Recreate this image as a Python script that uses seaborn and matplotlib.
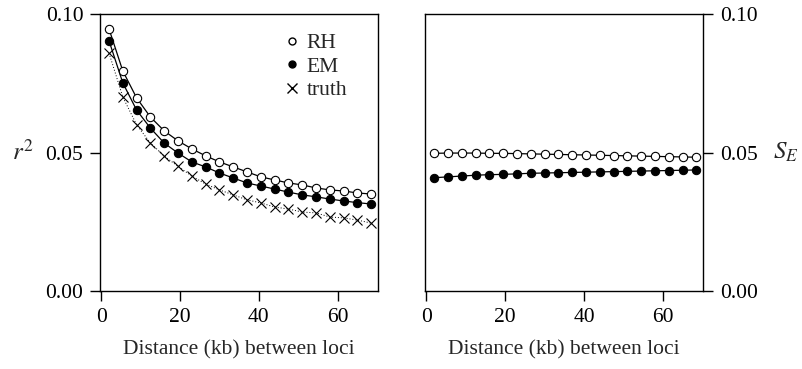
import numpy as np
import pandas as pd
import matplotlib
matplotlib.use("Agg")
import matplotlib.pyplot as plt
from matplotlib.lines import Line2D
import seaborn as sns

# distance between loci (kb)
distance = [2, 5.5, 9, 12.5, 16, 19.5, 23, 26.5, 30, 33.5,
            37, 40.5, 44, 47.5, 51, 54.5, 58, 61.5, 65, 68.5]

# left panel: r^2
r2_rh = [0.0946, 0.0794, 0.0697, 0.0628, 0.0578, 0.0542, 0.0513, 0.0488, 0.0466, 0.0448,
         0.0430, 0.0412, 0.0401, 0.0390, 0.0383, 0.0372, 0.0365, 0.0361, 0.0354, 0.0350]
r2_em = [0.0903, 0.0751, 0.0653, 0.0588, 0.0534, 0.0498, 0.0466, 0.0448, 0.0426, 0.0408,
         0.0390, 0.0379, 0.0368, 0.0357, 0.0347, 0.0340, 0.0332, 0.0325, 0.0319, 0.0314]
r2_truth = [0.0859, 0.0700, 0.0600, 0.0534, 0.0487, 0.0450, 0.0415, 0.0386, 0.0365, 0.0347,
            0.0329, 0.0318, 0.0303, 0.0296, 0.0285, 0.0282, 0.0267, 0.0264, 0.0256, 0.0245]

# right panel: S_E
se_rh = [0.0497, 0.0498, 0.0498, 0.0498, 0.0497, 0.0497, 0.0496, 0.0495, 0.0494, 0.0493,
         0.0492, 0.0491, 0.0490, 0.0489, 0.0488, 0.0487, 0.0486, 0.0485, 0.0484, 0.0483]
se_em = [0.0409, 0.0412, 0.0415, 0.0418, 0.0420, 0.0421, 0.0423, 0.0425, 0.0426, 0.0427,
         0.0428, 0.0429, 0.0430, 0.0431, 0.0432, 0.0433, 0.0434, 0.0435, 0.0436, 0.0437]

yticks = [0.00, 0.05, 0.10]
xticks = [0, 20, 40, 60]

sns.set_style("ticks")
plt.rcParams['font.family'] = ['Liberation Serif', 'DejaVu Serif']
plt.rcParams['mathtext.fontset'] = 'stix'

FS = 15.5

fig = plt.figure(figsize=(8.03, 3.69), dpi=100)
ax1 = fig.add_axes([0.1245, 0.2114, 0.3462, 0.7506])
ax2 = fig.add_axes([0.5293, 0.2114, 0.3462, 0.7506])

open_kw = dict(marker='o', markersize=6, markerfacecolor='white',
               markeredgecolor='black', markeredgewidth=0.8)
fill_kw = dict(marker='o', markersize=6, markerfacecolor='black',
               markeredgecolor='black')

sns.lineplot(x=distance, y=r2_truth, ax=ax1, color='black', linewidth=0.7,
             linestyle=(0, (1, 2)), marker='x', markersize=7,
             markeredgewidth=0.8, markeredgecolor='black')
sns.lineplot(x=distance, y=r2_em, ax=ax1, color='black', linewidth=0.9, **fill_kw)
sns.lineplot(x=distance, y=r2_rh, ax=ax1, color='black', linewidth=0.9, **open_kw)

sns.lineplot(x=distance, y=se_em, ax=ax2, color='black', linewidth=0.9, **fill_kw)
sns.lineplot(x=distance, y=se_rh, ax=ax2, color='black', linewidth=0.9, **open_kw)

for ax in (ax1, ax2):
    ax.set_xlim(-0.3, 70.2)
    ax.set_ylim(0, 0.1)
    ax.set_xticks(xticks)
    ax.set_yticks(yticks)
    ax.set_yticklabels([f"{t:.2f}" for t in yticks])
    ax.tick_params(direction='out', length=7, width=1, colors='black',
                   labelsize=FS, pad=5)
    for sp in ax.spines.values():
        sp.set_visible(True)
        sp.set_color('black')
        sp.set_linewidth(1)
    ax.set_xlabel("Distance (kb) between loci", fontsize=FS, labelpad=10)

ax1.set_ylabel(r"$r^2$", rotation=0, fontsize=18, labelpad=16, va='center')
ax2.yaxis.tick_right()
ax2.yaxis.set_label_position('right')
ax2.set_ylabel(r"$S_E$", rotation=0, fontsize=18, labelpad=20, va='center')

handles = [
    Line2D([], [], linestyle='none', marker='o', markersize=5,
           markerfacecolor='white', markeredgecolor='black'),
    Line2D([], [], linestyle='none', marker='o', markersize=5,
           markerfacecolor='black', markeredgecolor='black'),
    Line2D([], [], linestyle='none', marker='x', markersize=7,
           markeredgecolor='black'),
]
ax1.legend(handles, ["RH", "EM", "truth"], loc='upper right', frameon=False,
           fontsize=FS, handletextpad=0.1, labelspacing=0.15, handlelength=1.2,
           bbox_to_anchor=(0.96, 1.0))

fig.savefig("out.png", dpi=100)
